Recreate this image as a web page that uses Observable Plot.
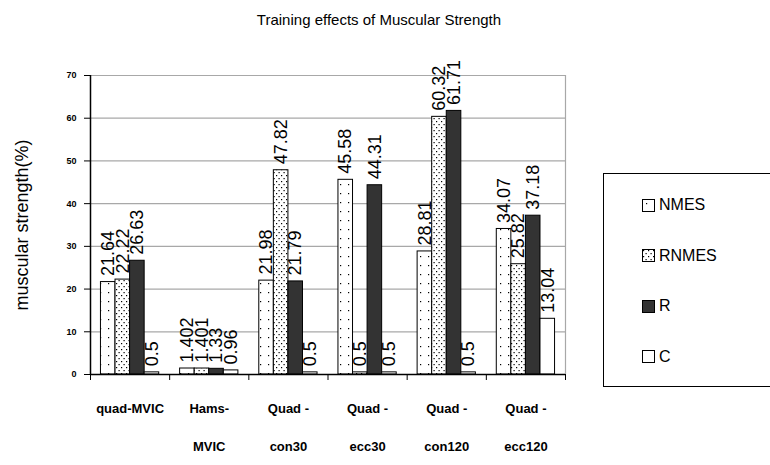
<!DOCTYPE html>
<html>
<head>
<meta charset="utf-8">
<script src="https://cdn.jsdelivr.net/npm/d3@7"></script>
<script src="https://cdn.jsdelivr.net/npm/@observablehq/plot@0.6"></script>
<style>
  body { margin: 0; background: #fff; font-family: "Liberation Sans", Arial, sans-serif; }
  #wrap { position: relative; width: 770px; height: 465px; overflow: hidden; }
  #title { position: absolute; top: 11px; left: 0; width: 758px; text-align: center; font-size: 15px; color: #000; }
  #legend { position: absolute; left: 603px; top: 173px; width: 175px; height: 214px; border: 1px solid #000; box-sizing: border-box; display: flex; flex-direction: column; justify-content: space-around; padding: 6px 0 4px 38px; }
  .item { display: flex; align-items: center; font-size: 16px; color: #000; }
  .item svg { margin-right: 4px; }
  g[aria-label^="y-axis"] text { font-weight: bold; font-size: 9px; }
</style>
</head>
<body>
<svg width="0" height="0" style="position:absolute">
  <defs>
    <pattern id="pNMES" patternUnits="userSpaceOnUse" width="8" height="9">
      <rect width="8" height="9" fill="#fff"/>
      <rect x="4" y="4" width="1.2" height="1.2" fill="#000"/>
    </pattern>
    <pattern id="pRNMES" patternUnits="userSpaceOnUse" width="5" height="6">
      <rect width="5" height="6" fill="#fff"/>
      <rect x="1" y="1" width="1.2" height="1.2" fill="#000"/>
      <rect x="3.5" y="4" width="1.2" height="1.2" fill="#000"/>
    </pattern>
  </defs>
</svg>
<div id="wrap">
  <div id="chart"></div>
  <div id="title">Training effects of Muscular Strength</div>
  <div id="legend"></div>
</div>
<script>
// ---- data ----
const categories = ["quad-MVIC", "Hams-\nMVIC", "Quad -\ncon30", "Quad -\necc30", "Quad -\ncon120", "Quad -\necc120"];
const series = ["NMES", "RNMES", "R", "C"];
const nmes  = [21.64, 1.402, 21.98, 45.58, 28.81, 34.07];
const rnmes = [22.22, 1.401, 47.82, 0.5, 60.32, 25.82];
const r     = [26.63, 1.33, 21.79, 44.31, 61.71, 37.18];
const c     = [0.5, 0.96, 0.5, 0.5, 0.5, 13.04];
const yTicks = [0, 10, 20, 30, 40, 50, 60, 70];

const fills = ["url(#pNMES)", "url(#pRNMES)", "#333333", "#ffffff"];
const valuesBySeries = [nmes, rnmes, r, c];

const table = [];
categories.forEach((cat, ci) => {
  series.forEach((s, si) => {
    table.push({category: cat, ci, series: s, si, value: valuesBySeries[si][ci]});
  });
});

// group layout within each category slot (in category units)
const barW = 0.184;
const outer = (1 - series.length * barW) / 2;
const left = d => d.ci + outer + d.si * barW;

const chart = Plot.plot({
  width: 770,
  height: 465,
  marginLeft: 90,
  marginRight: 205,
  marginTop: 75,
  marginBottom: 91,
  style: {fontFamily: "Liberation Sans, Arial, sans-serif", fontSize: "9px", color: "#000", background: "transparent"},
  x: {domain: [0, categories.length], ticks: d3.range(categories.length + 1), tickFormat: () => "", tickSize: 6, label: null},
  y: {domain: [0, 70], ticks: yTicks, tickSize: 6, tickPadding: 8, label: null},
  color: {domain: series, range: fills},
  marks: [
    Plot.ruleY(yTicks.filter(v => v > 0), {stroke: "#a8a8a8", strokeWidth: 1.2}),
    Plot.ruleX([categories.length], {stroke: "#a8a8a8", strokeWidth: 1.2}),
    Plot.rectY(table, {x1: left, x2: d => left(d) + barW, y1: 0, y2: "value", fill: "series", stroke: "#000", strokeWidth: 1}),
    Plot.ruleY([0], {stroke: "#000", strokeWidth: 1.5}),
    Plot.ruleX([0], {stroke: "#000", strokeWidth: 1.5}),
    Plot.text(table, {x: d => left(d) + barW / 2, y: "value", text: d => String(d.value), rotate: -90, textAnchor: "start", dy: -6, fontSize: 18, fill: "#000"}),
    Plot.text(categories, {x: (d, i) => i + 0.5, frameAnchor: "bottom", text: d => d, lineAnchor: "top", dy: 12, lineHeight: 2.92, fontSize: 13, fontWeight: "bold", fill: "#000"}),
    Plot.text(["muscular strength(%)"], {frameAnchor: "left", text: d => d, rotate: -90, textAnchor: "middle", dx: -68, fontSize: 18, fill: "#000"})
  ]
});
document.getElementById("chart").appendChild(chart);

// legend built from the same series/fills arrays
const legend = d3.select("#legend");
series.forEach((s, i) => {
  const item = legend.append("div").attr("class", "item");
  const sw = item.append("svg").attr("width", 13).attr("height", 13);
  sw.append("rect").attr("x", 0.5).attr("y", 0.5).attr("width", 12).attr("height", 12)
    .attr("fill", fills[i]).attr("stroke", "#000");
  item.append("span").text(s);
});
</script>
</body>
</html>
